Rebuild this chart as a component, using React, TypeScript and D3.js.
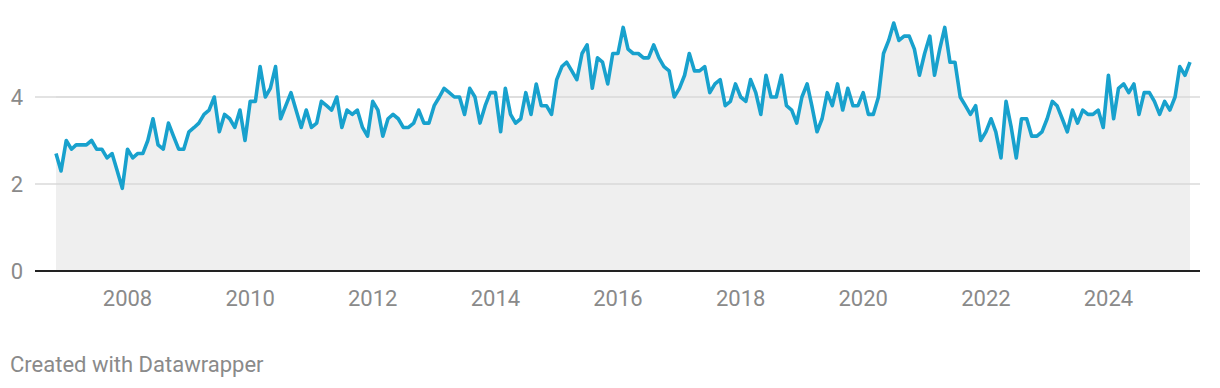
import React, { useEffect, useRef } from 'react';
import * as d3 from 'd3';

// monthly series, first point Nov 2006
const startDate = new Date(2006, 10, 1);
const values = [
  2.7, 2.3, 3.0, 2.8, 2.9, 2.9, 2.9, 3.0, 2.8, 2.8, 2.6, 2.7, 2.3, 1.9,
  2.8, 2.6, 2.7, 2.7, 3.0, 3.5, 2.9, 2.8, 3.4, 3.1, 2.8, 2.8,
  3.2, 3.3, 3.4, 3.6, 3.7, 4.0, 3.2, 3.6, 3.5, 3.3, 3.7, 3.0,
  3.9, 3.9, 4.7, 4.0, 4.2, 4.7, 3.5, 3.8, 4.1, 3.7, 3.3, 3.7,
  3.3, 3.4, 3.9, 3.8, 3.7, 4.0, 3.3, 3.7, 3.6, 3.7, 3.3, 3.1,
  3.9, 3.7, 3.1, 3.5, 3.6, 3.5, 3.3, 3.3, 3.4, 3.7, 3.4, 3.4,
  3.8, 4.0, 4.2, 4.1, 4.0, 4.0, 3.6, 4.2, 4.0, 3.4, 3.8, 4.1,
  4.1, 3.2, 4.2, 3.6, 3.4, 3.5, 4.1, 3.6, 4.3, 3.8, 3.8, 3.6,
  4.4, 4.7, 4.8, 4.6, 4.4, 5.0, 5.2, 4.2, 4.9, 4.8, 4.3, 5.0,
  5.0, 5.6, 5.1, 5.0, 5.0, 4.9, 4.9, 5.2, 4.9, 4.7, 4.6, 4.0,
  4.2, 4.5, 5.0, 4.6, 4.6, 4.7, 4.1, 4.3, 4.4, 3.8, 3.9, 4.3,
  4.0, 3.9, 4.4, 4.1, 3.6, 4.5, 4.0, 4.0, 4.5, 3.8, 3.7, 3.4,
  4.0, 4.3, 3.8, 3.2, 3.5, 4.1, 3.8, 4.3, 3.7, 4.2, 3.8, 3.8,
  4.1, 3.6, 3.6, 4.0, 5.0, 5.3, 5.7, 5.3, 5.4, 5.4, 5.1, 4.5,
  5.0, 5.4, 4.5, 5.1, 5.6, 4.8, 4.8, 4.0, 3.8, 3.6, 3.8, 3.0,
  3.2, 3.5, 3.2, 2.6, 3.9, 3.3, 2.6, 3.5, 3.5, 3.1, 3.1, 3.2,
  3.5, 3.9, 3.8, 3.5, 3.2, 3.7, 3.4, 3.7, 3.6, 3.6, 3.7, 3.3,
  4.5, 3.5, 4.2, 4.3, 4.1, 4.3, 3.6, 4.1, 4.1, 3.9, 3.6, 3.9,
  3.7, 4.0, 4.7, 4.5, 4.8,
];
const yTicks = [0, 2, 4];
const xTickYears = [2008, 2010, 2012, 2014, 2016, 2018, 2020, 2022, 2024];

export default function App() {
  const svgRef = useRef<SVGSVGElement>(null);

  useEffect(() => {
    if (!svgRef.current) return;
    const width = 1220;
    const height = 388;
    const svg = d3.select(svgRef.current);
    svg.selectAll('*').remove();

    const data = values.map((v, i) => ({ date: d3.timeMonth.offset(startDate, i), value: v }));

    const x = d3.scaleTime()
      .domain([data[0].date, data[data.length - 1].date])
      .range([56, 1190]);
    const y = d3.scaleLinear().domain([0, 6]).range([271, 10]);

    const font = 'Roboto, sans-serif';

    // Grid behind area
    yTicks.filter(t => t !== 0).forEach(t => {
      svg.append('line')
        .attr('x1', 35).attr('x2', 1200)
        .attr('y1', y(t)).attr('y2', y(t))
        .attr('stroke', '#e3e3e3')
        .attr('stroke-width', 2);
    });

    // Area
    const area = d3.area<{ date: Date; value: number }>()
      .x(d => x(d.date))
      .y0(y(0))
      .y1(d => y(d.value));
    svg.append('path')
      .datum(data)
      .attr('fill', '#efefef')
      .attr('d', area);

    // Gridlines over the area
    yTicks.filter(t => t !== 0).forEach(t => {
      svg.append('line')
        .attr('x1', 56).attr('x2', 1190)
        .attr('y1', y(t)).attr('y2', y(t))
        .attr('stroke', '#dedede')
        .attr('stroke-width', 2);
    });

    // Line
    const line = d3.line<{ date: Date; value: number }>()
      .x(d => x(d.date))
      .y(d => y(d.value));
    svg.append('path')
      .datum(data)
      .attr('fill', 'none')
      .attr('stroke', '#18a1cd')
      .attr('stroke-width', 3.6)
      .attr('stroke-linejoin', 'round')
      .attr('d', line);

    // Baseline
    svg.append('line')
      .attr('x1', 35).attr('x2', 1200)
      .attr('y1', y(0)).attr('y2', y(0))
      .attr('stroke', '#222')
      .attr('stroke-width', 2);

    // Y labels
    yTicks.forEach(t => {
      svg.append('text')
        .attr('x', 23)
        .attr('y', y(t))
        .attr('dy', '0.36em')
        .attr('text-anchor', 'end')
        .attr('fill', '#8a8a8a')
        .attr('font-family', font)
        .attr('font-size', '22px')
        .text(t);
    });

    // X labels
    xTickYears.forEach(yr => {
      svg.append('text')
        .attr('x', x(new Date(yr, 0, 1)))
        .attr('y', 306)
        .attr('text-anchor', 'middle')
        .attr('fill', '#8a8a8a')
        .attr('font-family', font)
        .attr('font-size', '22px')
        .text(yr);
    });

    svg.append('text')
      .attr('x', 10)
      .attr('y', 372)
      .attr('fill', '#8a8a8a')
      .attr('font-family', font)
      .attr('font-size', '22px')
      .text('Created with Datawrapper');

    svg.attr('width', width).attr('height', height);
  }, []);

  return (
    <svg
      ref={svgRef}
      width={1220}
      height={388}
      style={{ position: 'absolute', left: 0, top: 0, background: '#fff' }}
    />
  );
}
